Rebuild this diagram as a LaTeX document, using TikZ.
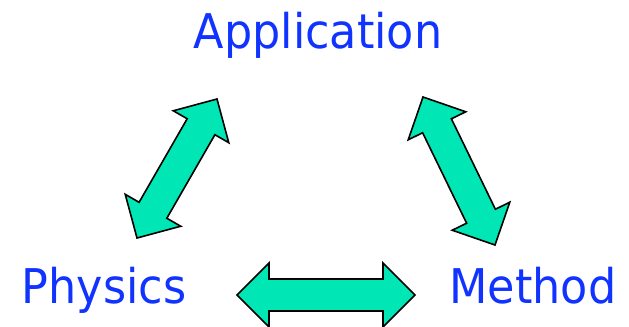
\documentclass[tikz,border=0pt]{standalone}
\usepackage{fontspec}
\setmainfont{DejaVu Sans}
\usetikzlibrary{calc}
\definecolor{labelblue}{RGB}{16,51,255}
\definecolor{arrowgreen}{RGB}{0,230,180}
\tikzset{
  topic/.style={font=\fontsize{48}{58}\selectfont,text=labelblue,anchor=base,inner sep=0pt,xscale=0.93},
  fatarrow/.style={draw=black,line width=1.6bp,fill=arrowgreen,line join=miter},
}
% thick two-headed arrow between two named points
\newcommand\fatarrow[2]{%
  \path ($(#1)!32bp!(#2)$) coordinate (ha) ($(#2)!32bp!(#1)$) coordinate (hb);
  \draw[fatarrow] (#1) -- ($(ha)!32bp!90:(#2)$) -- ($(ha)!16bp!90:(#2)$)
    -- ($(hb)!16bp!-90:(#1)$) -- ($(hb)!32bp!-90:(#1)$) -- (#2)
    -- ($(hb)!32bp!90:(#1)$) -- ($(hb)!16bp!90:(#1)$)
    -- ($(ha)!16bp!-90:(#2)$) -- ($(ha)!32bp!-90:(#2)$) -- cycle;}
\begin{document}
\begin{tikzpicture}[x=1bp,y=-1bp]
\useasboundingbox (0,0) rectangle (629,326);
% labels
\node[topic] (app) at (318,48) {Application};
\node[topic] (phy) at (104,303) {Physics};
\node[topic] (met) at (533,303) {Method};
% arrow ends
\coordinate (appL) at (217,99);  \coordinate (phyU) at (137,238);
\coordinate (appR) at (423,97);  \coordinate (metU) at (495,245);
\coordinate (phyR) at (237,295); \coordinate (metL) at (415,295);
\fatarrow{appL}{phyU}
\fatarrow{appR}{metU}
\fatarrow{phyR}{metL}
\end{tikzpicture}
\end{document}
